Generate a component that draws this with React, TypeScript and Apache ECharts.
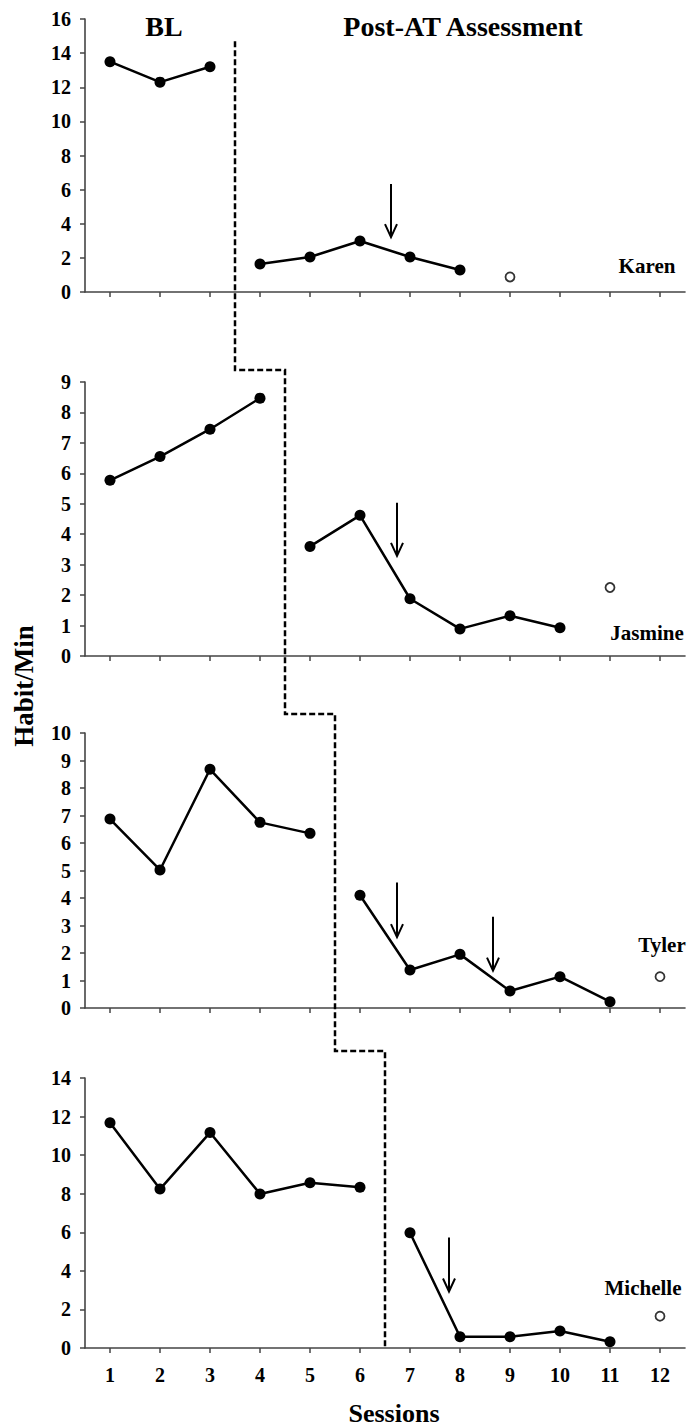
import React, { useEffect, useRef } from "react";
import * as echarts from "echarts";

// ---------- data ----------
const sessions = [1, 2, 3, 4, 5, 6, 7, 8, 9, 10, 11, 12];

const karenBaseline = [13.5, 12.3, 13.2];
const karenPost = [1.64, 2.05, 2.99, 2.05, 1.29];
const karenFollowUp = [9, 0.88];
const karenArrows = [[6.62, 6.33, 3.22]];

const jasmineBaseline = [5.77, 6.55, 7.45, 8.47];
const jasminePost = [3.6, 4.62, 1.88, 0.89, 1.32, 0.93];
const jasmineFollowUp = [11, 2.25];
const jasmineArrows = [[6.74, 5.03, 3.29]];

const tylerBaseline = [6.87, 5.02, 8.68, 6.75, 6.35];
const tylerPost = [4.1, 1.38, 1.95, 0.62, 1.14, 0.23];
const tylerFollowUp = [12, 1.14];
const tylerArrows = [
  [6.74, 4.56, 2.58],
  [8.66, 3.32, 1.36],
];

const michelleBaseline = [11.68, 8.24, 11.17, 7.99, 8.57, 8.33];
const michellePost = [5.98, 0.58, 0.58, 0.88, 0.32];
const michelleFollowUp = [12, 1.65];
const michelleArrows = [[7.78, 5.73, 2.93]];

const names = ["Karen", "Jasmine", "Tyler", "Michelle"];
const yMax = [16, 9, 10, 14];
const yInterval = [2, 1, 1, 2];
const phaseX = [3.5, 4.5, 5.5, 6.5];
const phaseStartValue = 14.7;

// ---------- layout ----------
const FONT = '"Liberation Serif", "Times New Roman", serif';
const gridTops = [19, 382, 733, 1078];
const gridBottoms = [292, 656, 1008, 1352.5];
const gridLeft = 85;
const gridWidth = 600;
const stepY = [370, 714, 1051];
const namePos = [
  [647, 266],
  [647, 633],
  [662, 945],
  [643, 1288],
];

const panels = [
  { baseline: karenBaseline, post: karenPost, follow: karenFollowUp, arrows: karenArrows },
  { baseline: jasmineBaseline, post: jasminePost, follow: jasmineFollowUp, arrows: jasmineArrows },
  { baseline: tylerBaseline, post: tylerPost, follow: tylerFollowUp, arrows: tylerArrows },
  { baseline: michelleBaseline, post: michellePost, follow: michelleFollowUp, arrows: michelleArrows },
];

const axisColor = "#444";

export default function App() {
  const ref = useRef<HTMLDivElement>(null);

  useEffect(() => {
    if (!ref.current) return;
    const chart = echarts.init(ref.current, undefined, { renderer: "svg" });

    const grids = panels.map((_, i) => ({
      left: gridLeft,
      top: gridTops[i],
      width: gridWidth,
      height: gridBottoms[i] - gridTops[i],
    }));

    const xAxes = panels.map((_, i) => ({
      type: "value",
      gridIndex: i,
      min: 0.5,
      max: 12.5,
      splitLine: { show: false },
      axisLine: { show: true, lineStyle: { color: axisColor, width: 1.6 } },
      axisTick: {
        show: true,
        customValues: sessions,
        length: 5,
        lineStyle: { color: axisColor, width: 1.5 },
      },
      axisLabel: {
        show: i === 3,
        customValues: sessions,
        margin: 17,
        fontFamily: FONT,
        fontWeight: "bold",
        fontSize: 20,
        color: "#000",
      },
      name: i === 3 ? "Sessions" : "",
      nameLocation: "middle",
      nameGap: 52,
      nameTextStyle: { fontFamily: FONT, fontWeight: "bold", fontSize: 26, color: "#000", padding: [0, 0, 0, 18] },
    }));

    const yAxes = panels.map((_, i) => ({
      type: "value",
      gridIndex: i,
      min: 0,
      max: yMax[i],
      interval: yInterval[i],
      splitLine: { show: false },
      axisLine: { show: true, lineStyle: { color: axisColor, width: 1.6 } },
      axisTick: { show: true, length: 5, lineStyle: { color: axisColor, width: 1.5 } },
      axisLabel: {
        margin: 14,
        fontFamily: FONT,
        fontWeight: "bold",
        fontSize: 20,
        color: "#000",
      },
    }));

    const series: any[] = [];
    panels.forEach((p, i) => {
      const lineCommon = {
        type: "line",
        xAxisIndex: i,
        yAxisIndex: i,
        symbol: "circle",
        symbolSize: 11,
        itemStyle: { color: "#000" },
        lineStyle: { color: "#000", width: 2.5 },
        z: 3,
      };
      series.push({
        ...lineCommon,
        data: p.baseline.map((v, k) => [sessions[k], v]),
      });
      series.push({
        ...lineCommon,
        data: p.post.map((v, k) => [sessions[p.baseline.length + k], v]),
      });
      series.push({
        type: "scatter",
        xAxisIndex: i,
        yAxisIndex: i,
        symbol: "circle",
        symbolSize: 9,
        itemStyle: { color: "#fff", borderColor: "#000", borderWidth: 1.8 },
        data: [p.follow],
        z: 3,
      });
      series.push({
        type: "custom",
        xAxisIndex: i,
        yAxisIndex: i,
        data: p.arrows,
        encode: { x: 0, y: [1, 2] },
        renderItem: (params: any, api: any) => {
          const top = api.coord([api.value(0), api.value(1)]);
          const bot = api.coord([api.value(0), api.value(2)]);
          return {
            type: "group",
            children: [
              {
                type: "line",
                shape: { x1: top[0], y1: top[1], x2: bot[0], y2: bot[1] },
                style: { stroke: "#000", lineWidth: 2 },
              },
              {
                type: "polyline",
                shape: {
                  points: [
                    [bot[0] - 6, bot[1] - 13],
                    [bot[0], bot[1]],
                    [bot[0] + 6, bot[1] - 13],
                  ],
                },
                style: { stroke: "#000", fill: null, lineWidth: 2 },
              },
            ],
          };
        },
      });
    });

    const textStyle = (size: number) => ({
      fontFamily: FONT,
      fontWeight: "bold",
      fontSize: size,
      fill: "#000",
      textAlign: "center",
      textVerticalAlign: "middle",
    });

    const staticGraphics: any[] = [
      { id: "bl", type: "text", x: 164, y: 26, style: { text: "BL", ...textStyle(28) } },
      { id: "post", type: "text", x: 463, y: 26, style: { text: "Post-AT Assessment", ...textStyle(28) } },
      {
        id: "ylabel",
        type: "text",
        x: 24,
        y: 686,
        rotation: Math.PI / 2,
        style: { text: "Habit/Min", ...textStyle(27) },
      },
      ...names.map((n, i) => ({
        id: "name" + i,
        type: "text",
        x: namePos[i][0],
        y: namePos[i][1],
        style: { text: n, ...textStyle(21) },
      })),
    ];

    chart.setOption({
      animation: false,
      grid: grids,
      xAxis: xAxes,
      yAxis: yAxes,
      series,
      graphic: staticGraphics,
    });

    // phase-change dashed line, positioned through each panel's scales
    const pts: number[][] = [];
    const start = chart.convertToPixel({ gridIndex: 0 }, [phaseX[0], phaseStartValue]) as number[];
    pts.push(start);
    for (let i = 0; i < 4; i++) {
      const x = (chart.convertToPixel({ gridIndex: i }, [phaseX[i], 0]) as number[])[0];
      if (i < 3) {
        pts.push([x, stepY[i]]);
        const nx = (chart.convertToPixel({ gridIndex: i + 1 }, [phaseX[i + 1], 0]) as number[])[0];
        pts.push([nx, stepY[i]]);
      } else {
        const yb = (chart.convertToPixel({ gridIndex: 3 }, [phaseX[3], 0]) as number[])[1];
        pts.push([x, yb]);
      }
    }
    chart.setOption({
      graphic: [
        ...staticGraphics,
        {
          id: "phase",
          type: "polyline",
          shape: { points: pts },
          style: { stroke: "#000", lineWidth: 2.5, lineDash: [6, 3], fill: null },
          z: 10,
        },
      ],
    });

    return () => chart.dispose();
  }, []);

  return (
    <div
      ref={ref}
      style={{ position: "absolute", left: 0, top: 0, width: 694, height: 1427, background: "#fff" }}
    />
  );
}
